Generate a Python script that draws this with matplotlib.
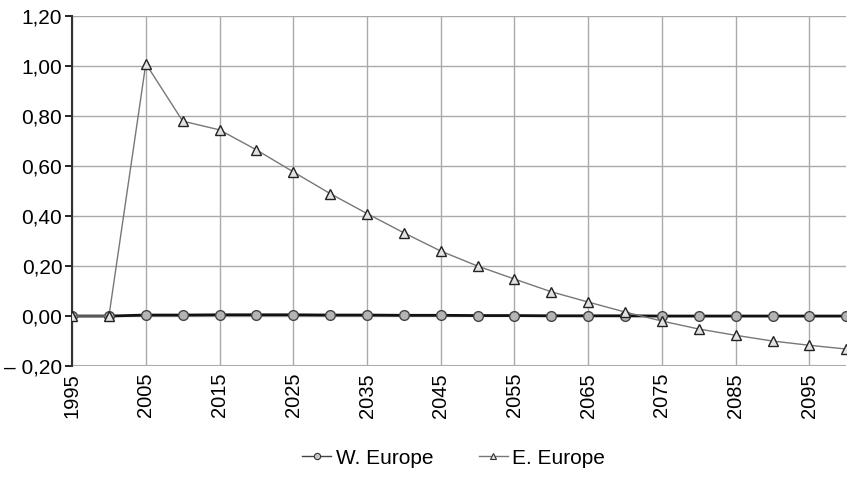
import matplotlib
matplotlib.use("Agg")
import matplotlib.pyplot as plt
from matplotlib.lines import Line2D
from matplotlib.ticker import FixedLocator, FuncFormatter

plt.rcParams['font.family'] = ['Liberation Sans', 'DejaVu Sans']

# data
years = list(range(1995, 2101, 5))
w_europe = [0.0, 0.0, 0.004, 0.004, 0.005, 0.005, 0.005, 0.004, 0.004, 0.003,
            0.003, 0.002, 0.002, 0.001, 0.001, 0.001, 0.0, 0.0, 0.0, 0.0, 0.0, 0.0]
e_europe = [0.0, 0.0, 1.01, 0.78, 0.745, 0.665, 0.577, 0.49, 0.41, 0.333,
            0.26, 0.2, 0.148, 0.097, 0.056, 0.016, -0.02, -0.052, -0.077, -0.1, -0.117, -0.132]
x_ticks = list(range(1995, 2100, 10))
y_ticks = [-0.2, 0.0, 0.2, 0.4, 0.6, 0.8, 1.0, 1.2]

fig = plt.figure(figsize=(8.48, 4.9), dpi=100)
ax = fig.add_axes([0.085, 0.253, 0.913, 0.714])

ax.plot(years, w_europe, color='#111111', lw=2, marker='o', ms=7,
        mfc='#b4b4b4', mec='#444444', mew=1, zorder=3)
ax.plot(years, e_europe, color='#777777', lw=1, marker='^', ms=7,
        mfc='#e2e2e2', mec='#222222', mew=1, zorder=4)

ax.set_xlim(1995, 2100)
ax.set_ylim(-0.2, 1.2)
ax.xaxis.set_major_locator(FixedLocator(x_ticks))
ax.yaxis.set_major_locator(FixedLocator(y_ticks))


def fmt_y(v, pos):
    s = f"{abs(v):.2f}".replace('.', ',')
    return ("\u2013 " + s) if v < -1e-9 else s


ax.yaxis.set_major_formatter(FuncFormatter(fmt_y))
ax.tick_params(axis='x', labelrotation=90, labelsize=14.5, length=0, pad=5)
ax.tick_params(axis='y', labelsize=15, length=5, width=1.2, direction='out', pad=2)
ax.grid(True, color='#aaaaaa', lw=1)
ax.set_axisbelow(True)

for side in ['top', 'right', 'bottom']:
    ax.spines[side].set_visible(False)
ax.spines['left'].set_linewidth(1.5)
ax.spines['left'].set_color('#333333')
ax.axhline(-0.2, color='#aaaaaa', lw=1.5, zorder=1)

# legend handles drawn thin and small, as in the original
handles = [
    Line2D([], [], color='#444444', lw=1, marker='o', ms=4.5,
           mfc='#c8c8c8', mec='#333333', mew=0.8),
    Line2D([], [], color='#777777', lw=1, marker='^', ms=4.5,
           mfc='#e2e2e2', mec='#333333', mew=0.8),
]
fig.legend(handles, ['W. Europe', 'E. Europe'], loc='center',
           bbox_to_anchor=(0.535, 0.065), ncol=2, frameon=False, fontsize=15,
           handlelength=1.4, columnspacing=2.2, handletextpad=0.2)

fig.savefig('out.png', dpi=100)
